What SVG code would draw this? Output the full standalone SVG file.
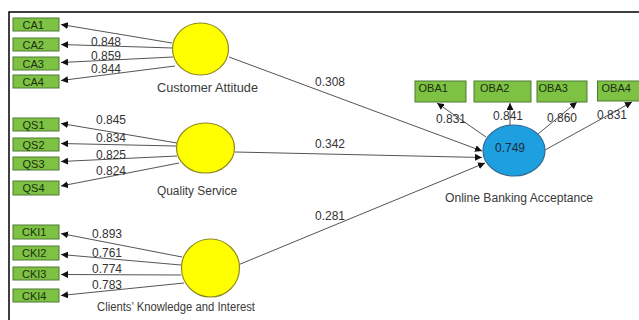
<svg xmlns="http://www.w3.org/2000/svg" width="639" height="320" viewBox="0 0 639 320">
<defs>
<marker id="ah" markerWidth="7" markerHeight="7" refX="7" refY="3.5" orient="auto" markerUnits="userSpaceOnUse">
<path d="M0,0 L7,3.5 L0,7 z" fill="#111"/>
</marker>
<style>
.box{fill:#7dc243;stroke:#4f7a35;stroke-width:1}
.bt{font-family:"Liberation Sans",Arial,sans-serif;font-size:11px;fill:#1d2e12}
.yc{fill:#ffff00;stroke:#8f8a1e;stroke-width:1.2}
.bc{fill:#1ea0e0;stroke:#2f6a96;stroke-width:1.2}
.lab{font-family:"Liberation Sans",Arial,sans-serif;font-size:12px;fill:#333}
.nl{font-family:"Liberation Sans",Arial,sans-serif;font-size:12px;fill:#3a3a3a;text-anchor:middle}
.cn line{stroke:#555;stroke-width:1;marker-end:url(#ah)}
.cn line.p{marker-end:url(#ah)}
</style>
</defs>
<rect width="639" height="320" fill="#fff"/>
<path d="M9,320 V12 H639" fill="none" stroke="#000" stroke-width="1.5"/>

<g id="connectors" class="cn">
<line x1="172" y1="43" x2="61" y2="24.5"/>
<line x1="173" y1="48" x2="61" y2="44.5"/>
<line x1="173" y1="57" x2="61" y2="62.5"/>
<line x1="175" y1="66" x2="61" y2="80.5"/>
<line x1="177" y1="143" x2="61" y2="123.5"/>
<line x1="176" y1="146" x2="61" y2="143.5"/>
<line x1="177" y1="156" x2="61" y2="161.5"/>
<line x1="179" y1="163" x2="61" y2="186"/>
<line x1="182" y1="257" x2="61" y2="233.5"/>
<line x1="181" y1="265" x2="61" y2="254.5"/>
<line x1="181" y1="275" x2="61" y2="274.5"/>
<line x1="184" y1="283" x2="61" y2="295.5"/>
<line x1="229" y1="57" x2="482" y2="151"/>
<line x1="235" y1="152" x2="482" y2="157.5"/>
<line x1="238" y1="265" x2="485" y2="163"/>
<line x1="486" y1="137" x2="437" y2="103"/>
<line x1="510" y1="125" x2="510" y2="103"/>
<line x1="538" y1="134" x2="577" y2="102"/>
<line x1="545" y1="150" x2="632" y2="102"/>
</g>

<g id="CA1"><rect class="box" x="13" y="18" width="46" height="13"/><text class="bt" x="22.5" y="28.5">CA1</text></g>
<g id="CA2"><rect class="box" x="13" y="38" width="46" height="13"/><text class="bt" x="22.5" y="48.5">CA2</text></g>
<g id="CA3"><rect class="box" x="13" y="57" width="46" height="13"/><text class="bt" x="22.5" y="67.5">CA3</text></g>
<g id="CA4"><rect class="box" x="13" y="75" width="46" height="13"/><text class="bt" x="22.5" y="85.5">CA4</text></g>

<g id="QS1"><rect class="box" x="13" y="118" width="46" height="13"/><text class="bt" x="22.5" y="128.5">QS1</text></g>
<g id="QS2"><rect class="box" x="13" y="138" width="46" height="13"/><text class="bt" x="22.5" y="148.5">QS2</text></g>
<g id="QS3"><rect class="box" x="13" y="157" width="46" height="13"/><text class="bt" x="22.5" y="167.5">QS3</text></g>
<g id="QS4"><rect class="box" x="13" y="181" width="46" height="14"/><text class="bt" x="22.5" y="192">QS4</text></g>

<g id="CKI1"><rect class="box" x="13" y="225" width="46" height="14"/><text class="bt" x="22" y="236">CKI1</text></g>
<g id="CKI2"><rect class="box" x="13" y="246" width="46" height="14"/><text class="bt" x="22" y="257">CKI2</text></g>
<g id="CKI3"><rect class="box" x="13" y="267" width="46" height="13"/><text class="bt" x="22" y="277.5">CKI3</text></g>
<g id="CKI4"><rect class="box" x="13" y="289" width="46" height="13"/><text class="bt" x="22" y="299.5">CKI4</text></g>

<g id="OBA1"><rect class="box" x="415" y="81" width="51" height="21"/><text class="bt" x="418.5" y="92">OBA1</text></g>
<g id="OBA2"><rect class="box" x="474" y="81" width="57" height="21"/><text class="bt" x="480" y="92">OBA2</text></g>
<g id="OBA3"><rect class="box" x="537" y="81" width="50" height="21"/><text class="bt" x="538.5" y="92">OBA3</text></g>
<g id="OBA4"><rect class="box" x="597.5" y="81" width="45" height="20"/><text class="bt" x="601.5" y="92">OBA4</text></g>

<g id="CustomerAttitude"><ellipse class="yc" cx="200.5" cy="49" rx="28" ry="26"/><text class="nl" x="207.5" y="92" textLength="101" lengthAdjust="spacingAndGlyphs">Customer Attitude</text></g>
<g id="QualityService"><ellipse class="yc" cx="205.5" cy="148" rx="29" ry="25"/><text class="nl" x="197" y="195" textLength="80" lengthAdjust="spacingAndGlyphs">Quality Service</text></g>
<g id="ClientsKnowledge"><ellipse class="yc" cx="210.5" cy="268" rx="29" ry="29"/><text class="nl" x="176" y="311" textLength="158" lengthAdjust="spacingAndGlyphs">Clients’ Knowledge and Interest</text></g>
<g id="OnlineBanking"><ellipse class="bc" cx="514" cy="150.5" rx="31" ry="25.5"/><text class="nl" x="510" y="152" style="fill:#1b2a3a">0.749</text><text class="nl" x="519" y="202" textLength="148" lengthAdjust="spacingAndGlyphs">Online Banking Acceptance</text></g>

<g id="labels">
<text class="lab" x="91" y="46">0.848</text>
<text class="lab" x="91" y="60">0.859</text>
<text class="lab" x="91" y="73">0.844</text>
<text class="lab" x="96" y="124">0.845</text>
<text class="lab" x="96" y="142">0.834</text>
<text class="lab" x="96" y="159">0.825</text>
<text class="lab" x="96" y="175">0.824</text>
<text class="lab" x="92" y="238">0.893</text>
<text class="lab" x="92" y="257">0.761</text>
<text class="lab" x="92" y="273">0.774</text>
<text class="lab" x="92" y="289">0.783</text>
<text class="lab" x="315" y="86">0.308</text>
<text class="lab" x="315" y="148">0.342</text>
<text class="lab" x="315" y="220">0.281</text>
<text class="lab" x="436" y="123">0.831</text>
<text class="lab" x="493" y="120">0.841</text>
<text class="lab" x="547" y="122">0.860</text>
<text class="lab" x="597" y="119">0.831</text>
</g>
</svg>
